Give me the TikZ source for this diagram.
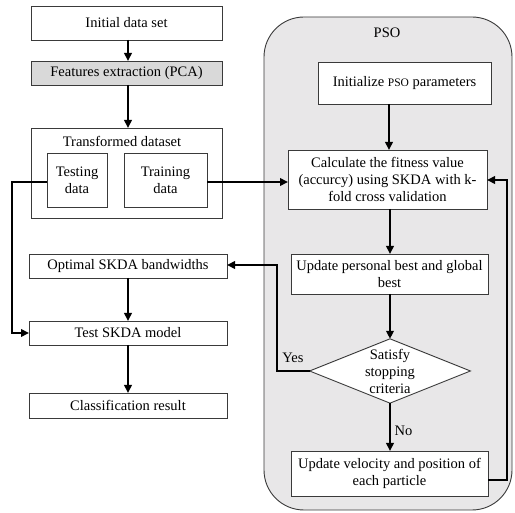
\documentclass[tikz,border=0pt]{standalone}
\usepackage{fontspec}
\setmainfont{Liberation Serif}
\usetikzlibrary{arrows.meta,shapes.geometric,calc}
\definecolor{boxgray}{HTML}{D9D9D9}
\definecolor{psogray}{HTML}{E8E7E8}
\definecolor{edgegray}{HTML}{3A3A3A}
\begin{document}
\begin{tikzpicture}[x=1pt,y=-1pt,
  font=\fontspec{Liberation Serif}\fontsize{14.5}{17}\selectfont,
  box/.style={draw=edgegray,line width=0.9pt,fill=white,align=center,inner sep=1pt,outer sep=0pt},
  conn/.style={line width=2.6pt,-{Triangle[length=8pt,width=7.5pt]}}]
\useasboundingbox (0,0) rectangle (515,513);
% PSO container
\draw[draw=edgegray,line width=0.9pt,fill=psogray,rounded corners=40pt] (264,17) rectangle (512,510);
\node (psot) at (387,33) {PSO};
% left column
\node[box,minimum width=191pt,minimum height=34pt] (init) at (126.5,23) {Initial data set};
\node[box,fill=boxgray,minimum width=191pt,minimum height=24pt] (feat) at (126.5,73) {Features extraction (PCA)};
\node[box,minimum width=191pt,minimum height=90pt] (trans) at (126.5,173) {};
\node (transt) at (122,141) {Transformed dataset};
\node[box,minimum width=60pt,minimum height=54pt] (test) at (77,180) {Testing\\data};
\node[box,minimum width=83pt,minimum height=54pt] (train) at (165.5,180) {Training\\data};
\node[box,minimum width=198pt,minimum height=24pt] (opt) at (128,266) {Optimal SKDA bandwidths};
\node[box,minimum width=198pt,minimum height=24pt] (testm) at (128,333) {Test SKDA model};
\node[box,minimum width=198pt,minimum height=25pt] (cls) at (128,405.5) {Classification result};
% right column
\node[box,minimum width=173pt,minimum height=42pt] (ini) at (404.5,83) {Initialize {\fontsize{11.5}{13}\selectfont PSO} parameters};
\node[box,minimum width=199pt,minimum height=59pt] (calc) at (387.5,179.5) {Calculate the fitness value\\(accurcy) using SKDA with k-\\fold cross validation};
\node[box,minimum width=197pt,minimum height=40pt] (upd) at (389.5,274) {Update personal best and global\\best};
\node[box,diamond,aspect=2.5,minimum width=156pt,minimum height=63pt,inner sep=0pt] (dia) at (390,371) {Satisfy\\stopping\\criteria};
\node[box,minimum width=197pt,minimum height=45pt] (vel) at (389.5,473.5) {Update velocity and position of\\each particle};
% connectors
\draw[conn] (init.south -| 128,0) -- (feat.north -| 128,0);
\draw[conn] (feat.south -| 128,0) -- (trans.north -| 128,0);
\draw[conn] (test.west |- 0,182) -- (12,182) -- (12,333) -- (testm.west);
\draw[conn] (train.east |- 0,182) -- (calc.west |- 0,182);
\draw[conn] (ini.south -| 389,0) -- (calc.north -| 389,0);
\draw[conn] (calc.south -| 390,0) -- (upd.north -| 390,0);
\draw[conn] (upd.south -| 390,0) -- (dia.north);
\draw[conn] (dia.south) -- node[right,pos=0.58] (no) {No} (vel.north -| 390,0);
\draw[conn] (dia.west) -- (277,371) -- (277,265) -- (opt.east |- 0,265);
\node (yes) at (293,358) {Yes};
\draw[conn] (vel.east |- 0,480) -- (507,480) -- (507,180) -- (calc.east |- 0,180);
\draw[conn] (opt.south) -- (testm.north);
\draw[conn] (testm.south) -- (cls.north);
\end{tikzpicture}
\end{document}
